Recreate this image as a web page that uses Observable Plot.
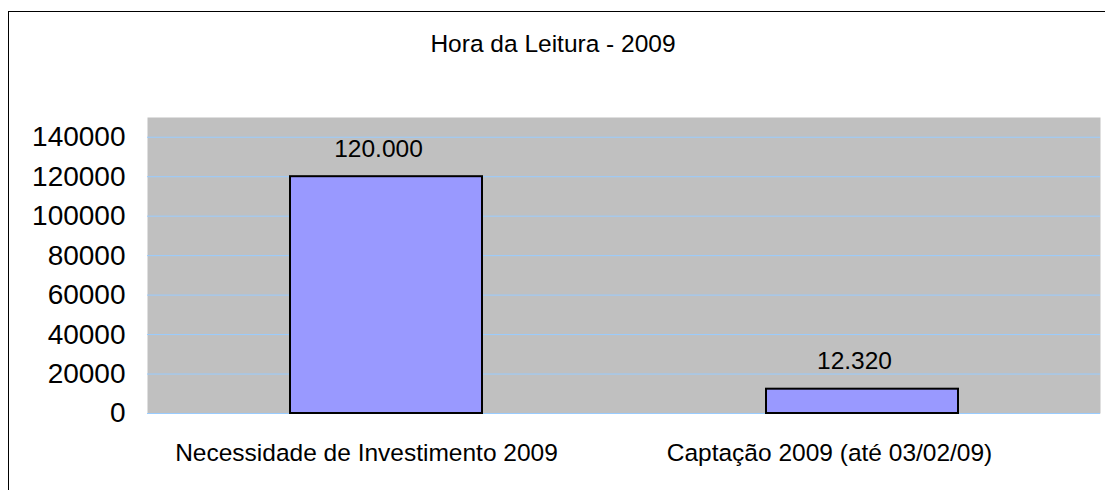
<!DOCTYPE html>
<html>
<head>
<meta charset="utf-8">
<script src="https://cdn.jsdelivr.net/npm/d3@7"></script>
<script src="https://cdn.jsdelivr.net/npm/@observablehq/plot@0.6"></script>
<style>
  html, body { margin: 0; padding: 0; background: #fff; }
  #wrap { position: relative; width: 1105px; height: 490px; overflow: hidden; }
  #border { position: absolute; left: 8px; top: 11px; width: 1200px; height: 600px;
            border-left: 1px solid #000; border-top: 1px solid #000; pointer-events: none; }
</style>
</head>
<body>
<div id="wrap"><div id="border"></div></div>
<script>
const title = "Hora da Leitura - 2009";
const categories = ["Necessidade de Investimento 2009", "Captação 2009 (até 03/02/09)"];
const values = [120000, 12320];
const valueLabels = ["120.000", "12.320"];
const yTicks = [0, 20000, 40000, 60000, 80000, 100000, 120000, 140000];

const data = categories.map((c, i) => ({cat: c, value: values[i], label: valueLabels[i]}));
const font = "Liberation Sans, Arial, sans-serif";
const labelShift = [-20, -33];

const chart = Plot.plot({
  width: 1105,
  height: 490,
  marginLeft: 147,
  marginRight: 5,
  marginTop: 117,
  marginBottom: 77,
  style: {fontFamily: font, background: "transparent", overflow: "visible"},
  x: {domain: categories, paddingInner: 0.597, paddingOuter: 0.2985, label: null, axis: null},
  y: {domain: [0, 150000], label: null},
  marks: [
    Plot.frame({fill: "#C0C0C0", stroke: "none"}),
    Plot.gridY(yTicks, {stroke: "#99CCFF", strokeOpacity: 1, strokeWidth: 1}),
    Plot.barY(data, {x: "cat", y: "value", fill: "#9999FF", stroke: "#000", strokeWidth: 2}),
    Plot.text(data, {x: "cat", y: "value", text: "label", dx: -8, dy: -28, fontSize: 24.5, fill: "#000", lineAnchor: "middle"}),
    Plot.axisY(yTicks, {tickSize: 0, tickPadding: 22, fontSize: 28, tickFormat: d => String(d), fill: "#000", label: null}),
    ...categories.map((c, i) => Plot.text([c], {x: d => d, frameAnchor: "bottom", dx: labelShift[i], dy: 40, fontSize: 24.5, fill: "#000", lineAnchor: "middle"})),
    Plot.text([title], {frameAnchor: "top", dx: -71, dy: -73, fontSize: 24.5, fill: "#000", lineAnchor: "middle"})
  ]
});
document.getElementById("wrap").prepend(chart);
</script>
</body>
</html>
